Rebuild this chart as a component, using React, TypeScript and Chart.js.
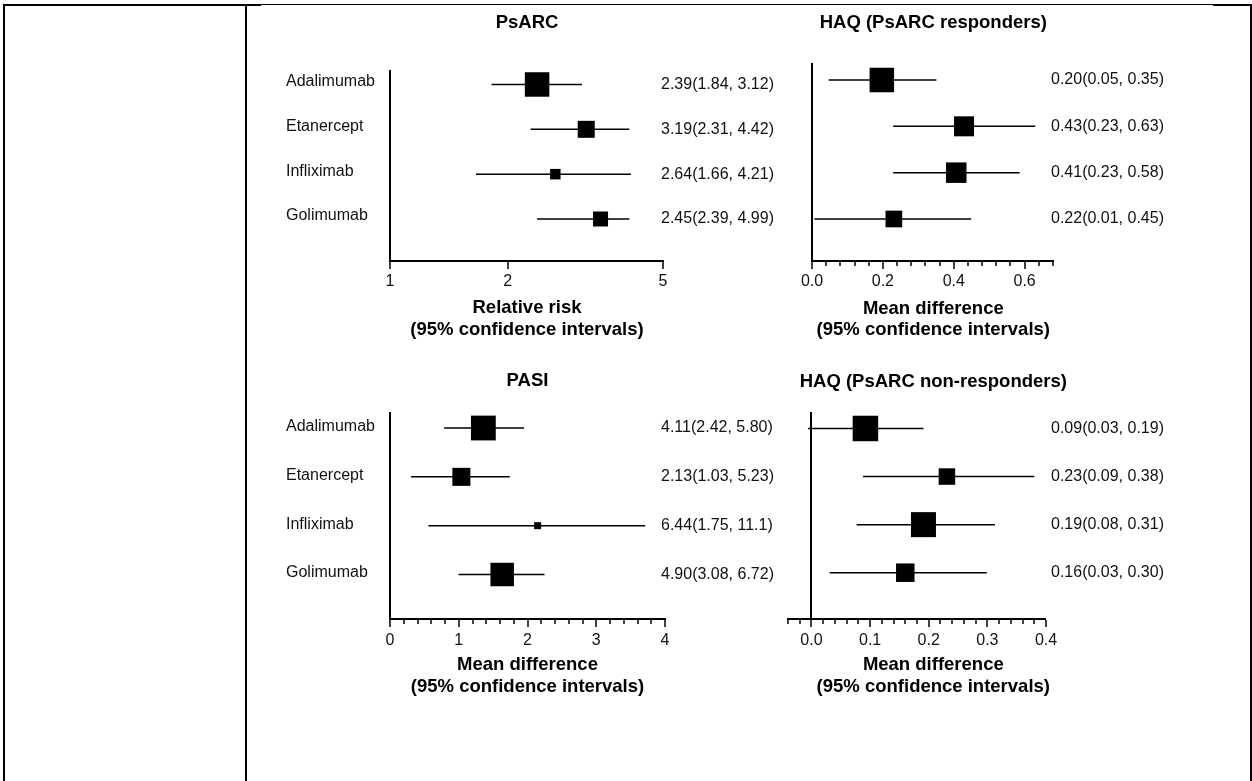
import React, { useEffect, useRef } from 'react';
import { Chart, registerables } from 'chart.js';

Chart.register(...registerables);

const FONT = "'Liberation Sans', Arial, Helvetica, sans-serif";
Chart.defaults.font.family = FONT;
Chart.defaults.color = '#111';

// ---------- data ----------
const drugs = ['Adalimumab', 'Etanercept', 'Infliximab', 'Golimumab'];
const rows = [1, 2, 3, 4];

// PsARC (relative risk, log axis)
const psarcPoint = [2.38, 3.18, 2.65, 3.46];
const psarcLow = [1.82, 2.29, 1.66, 2.38];
const psarcHigh = [3.1, 4.1, 4.14, 4.1];
const psarcBox = [24.5, 17, 10.5, 15];
const psarcText = ['2.39(1.84, 3.12)', '3.19(2.31, 4.42)', '2.64(1.66, 4.21)', '2.45(2.39, 4.99)'];
const psarcTicks = [1, 2, 5];
const psarcTickLabels = ['1', '2', '5'];

// HAQ (PsARC responders)
const haqRPoint = [0.197, 0.429, 0.407, 0.231];
const haqRLow = [0.047, 0.229, 0.229, 0.007];
const haqRHigh = [0.351, 0.63, 0.586, 0.449];
const haqRBox = [24.5, 20, 20.5, 16.7];
const haqRText = ['0.20(0.05, 0.35)', '0.43(0.23, 0.63)', '0.41(0.23, 0.58)', '0.22(0.01, 0.45)'];
const haqRTicks = [0, 0.2, 0.4, 0.6];
const haqRTickLabels = ['0.0', '0.2', '0.4', '0.6'];

// PASI
const pasiPoint = [1.358, 1.038, 2.147, 1.632];
const pasiLow = [0.788, 0.307, 0.559, 0.997];
const pasiHigh = [1.95, 1.742, 3.712, 2.248];
const pasiBox = [24.8, 18, 7, 23.5];
const pasiText = ['4.11(2.42, 5.80)', '2.13(1.03, 5.23)', '6.44(1.75, 11.1)', '4.90(3.08, 6.72)'];
const pasiTicks = [0, 1, 2, 3, 4];
const pasiTickLabels = ['0', '1', '2', '3', '4'];

// HAQ (PsARC non-responders)
const haqNPoint = [0.092, 0.231, 0.191, 0.16];
const haqNLow = [-0.006, 0.088, 0.077, 0.031];
const haqNHigh = [0.191, 0.38, 0.313, 0.299];
const haqNBox = [25.5, 16.5, 25, 18.5];
const haqNText = ['0.09(0.03, 0.19)', '0.23(0.09, 0.38)', '0.19(0.08, 0.31)', '0.16(0.03, 0.30)'];
const haqNTicks = [0, 0.1, 0.2, 0.3, 0.4];
const haqNTickLabels = ['0.0', '0.1', '0.2', '0.3', '0.4'];

// ---------- layout ----------
const TITLE_SIZE = 18.5;
const TITLE_LH = 1.17;
const TICK_SIZE = 16;
const TICK_LEN = 8;
const X_AXIS_H = 30;

type Geo = {
  left: number; top: number; width: number; height: number; padL: number;
  plotL: number; plotR: number; plotT: number; plotB: number;
  titleY: number; centerX: number; axisTitleY: number; tickLabelY: number;
  labelX: number; annX: number; yMin: number; yMax: number; rowLabelOffset: number;
};

type PanelSpec = {
  id: string; title: string; axisTitle: string[];
  scaleType: 'linear' | 'logarithmic';
  xMin: number; xMax: number; refValue: number;
  majorTicks: number[]; majorLabels: string[]; minorStep: number;
  point: number[]; low: number[]; high: number[]; box: number[]; text: string[];
  rowLabels: string[] | null;
  geo: Geo;
};

const panels: PanelSpec[] = [
  {
    id: 'psarc', title: 'PsARC', axisTitle: ['Relative risk', '(95% confidence intervals)'],
    scaleType: 'logarithmic', xMin: 1, xMax: 5, refValue: 1,
    majorTicks: psarcTicks, majorLabels: psarcTickLabels, minorStep: 0,
    point: psarcPoint, low: psarcLow, high: psarcHigh, box: psarcBox, text: psarcText, rowLabels: drugs,
    geo: { left: 270, top: 8, width: 520, height: 340, padL: 16, plotL: 390, plotR: 663, plotT: 70, plotB: 261,
      titleY: 23, centerX: 527, axisTitleY: 308.3, tickLabelY: 281.7, labelX: 286, annX: 661, yMin: 0.677, yMax: 4.937, rowLabelOffset: -3 },
  },
  {
    id: 'haqr', title: 'HAQ (PsARC responders)', axisTitle: ['Mean difference', '(95% confidence intervals)'],
    scaleType: 'linear', xMin: 0, xMax: 0.68, refValue: 0,
    majorTicks: haqRTicks, majorLabels: haqRTickLabels, minorStep: 0.04,
    point: haqRPoint, low: haqRLow, high: haqRHigh, box: haqRBox, text: haqRText, rowLabels: null,
    geo: { left: 790, top: 8, width: 400, height: 340, padL: 10, plotL: 812, plotR: 1053, plotT: 63, plotB: 261,
      titleY: 23, centerX: 933.3, axisTitleY: 308.5, tickLabelY: 282, labelX: 800, annX: 1051, yMin: 0.633, yMax: 4.907, rowLabelOffset: 0 },
  },
  {
    id: 'pasi', title: 'PASI', axisTitle: ['Mean difference', '(95% confidence intervals)'],
    scaleType: 'linear', xMin: 0, xMax: 4, refValue: 0,
    majorTicks: pasiTicks, majorLabels: pasiTickLabels, minorStep: 0.2,
    point: pasiPoint, low: pasiLow, high: pasiHigh, box: pasiBox, text: pasiText, rowLabels: drugs,
    geo: { left: 270, top: 355, width: 520, height: 345, padL: 16, plotL: 390, plotR: 665, plotT: 412, plotB: 619,
      titleY: 381, centerX: 527.5, axisTitleY: 665, tickLabelY: 641, labelX: 286, annX: 661, yMin: 0.672, yMax: 4.911, rowLabelOffset: -1.5 },
  },
  {
    id: 'haqn', title: 'HAQ (PsARC non-responders)', axisTitle: ['Mean difference', '(95% confidence intervals)'],
    scaleType: 'linear', xMin: -0.04, xMax: 0.4, refValue: 0,
    majorTicks: haqNTicks, majorLabels: haqNTickLabels, minorStep: 0.02,
    point: haqNPoint, low: haqNLow, high: haqNHigh, box: haqNBox, text: haqNText, rowLabels: null,
    geo: { left: 770, top: 355, width: 420, height: 345, padL: 5, plotL: 788, plotR: 1046, plotT: 412, plotB: 619,
      titleY: 381.5, centerX: 933.3, axisTitleY: 665, tickLabelY: 641, labelX: 775, annX: 1051, yMin: 0.657, yMax: 4.963, rowLabelOffset: 0 },
  },
];

function buildTickValues(major: number[], min: number, max: number, step: number) {
  const vals = [...major];
  if (step > 0) {
    const k0 = Math.ceil(min / step - 1e-9);
    const k1 = Math.floor(max / step + 1e-9);
    for (let k = k0; k <= k1; k++) {
      const v = Math.round(k * step * 1e6) / 1e6;
      if (!major.some((m) => Math.abs(m - v) < 1e-6)) vals.push(v);
    }
  }
  return vals.sort((a, b) => a - b);
}

function widestText(texts: string[], size: number) {
  const c = document.createElement('canvas');
  const ctx = c.getContext('2d');
  if (!ctx) return 113;
  ctx.font = `normal ${size}px ${FONT}`;
  return Math.max(...texts.map((t) => ctx.measureText(t).width));
}

function buildConfig(p: PanelSpec): any {
  const g = p.geo;
  const LH = TITLE_SIZE * TITLE_LH;
  const half = LH / 2;
  const wL = g.plotL - (g.left + g.padL);
  const padR = g.width - 2 * (g.centerX - g.left) + g.padL;
  const wR = g.left + g.width - padR - g.plotR;
  const annW = widestText(p.text, TICK_SIZE);
  // right axis, mirrored, crossAlign 'far': text starts at left + padding - widest
  const annPad = g.annX + annW - g.plotR;
  // left axis, mirrored, crossAlign 'near': x = right + padding
  const rowPad = g.labelX - g.plotL;
  const titlePadTop = g.titleY - g.top - half;
  const titlePadBottom = g.plotT - g.titleY - half;
  const tickPad = g.tickLabelY - g.plotB - TICK_LEN - (TICK_SIZE * 1.2) / 2;
  const subPadTop = g.axisTitleY - g.plotB - X_AXIS_H - half;
  const subPadBottom = g.top + g.height - g.plotB - X_AXIS_H - subPadTop - 2 * LH;

  const tickValues = buildTickValues(p.majorTicks, p.xMin, p.xMax, p.minorStep);
  const majorIndex = (v: number) => p.majorTicks.findIndex((m) => Math.abs(m - v) < 1e-6);
  const isRef = (v: any) => typeof v === 'number' && Math.abs(v - p.refValue) < 1e-9;

  const rowTicks = (s: any) => {
    s.ticks = rows.map((v) => ({ value: v }));
  };
  const fixVertical = (w: number) => (s: any) => {
    s.width = w;
    s.paddingTop = 0;
    s.paddingBottom = 0;
    s.paddingLeft = 0;
    s.paddingRight = 0;
  };

  return {
    type: 'scatter',
    data: {
      datasets: [
        {
          type: 'scatter',
          label: 'estimate',
          data: p.point.map((v, i) => ({ x: v, y: rows[i] })),
          pointStyle: 'rect',
          pointRadius: p.box.map((s) => s / Math.SQRT2),
          pointHoverRadius: p.box.map((s) => s / Math.SQRT2),
          backgroundColor: '#000',
          borderColor: '#000',
          borderWidth: 0,
          order: 0,
          clip: false,
          xAxisID: 'x',
          yAxisID: 'y',
        },
        {
          type: 'bar',
          label: 'ci',
          indexAxis: 'y',
          data: p.low.map((l, i) => ({ x: [l, p.high[i]], y: rows[i] })),
          backgroundColor: '#000',
          borderWidth: 0,
          barThickness: 1.5,
          inflateAmount: 0,
          order: 1,
          clip: false,
          xAxisID: 'x',
          yAxisID: 'y',
        },
      ],
    },
    options: {
      responsive: false,
      maintainAspectRatio: false,
      animation: false,
      events: [],
      layout: { padding: { left: g.padL, right: padR, top: 0, bottom: 0 } },
      plugins: {
        legend: { display: false },
        tooltip: { enabled: false },
        title: {
          display: true,
          text: p.title,
          color: '#000',
          align: 'center',
          font: { size: TITLE_SIZE, weight: 'bold', lineHeight: TITLE_LH, family: FONT },
          padding: { top: titlePadTop, bottom: titlePadBottom },
        },
        subtitle: {
          display: true,
          position: 'bottom',
          text: p.axisTitle,
          color: '#000',
          align: 'center',
          font: { size: TITLE_SIZE, weight: 'bold', lineHeight: TITLE_LH, family: FONT },
          padding: { top: subPadTop, bottom: subPadBottom },
        },
      },
      scales: {
        x: {
          type: p.scaleType,
          position: 'bottom',
          min: p.xMin,
          max: p.xMax,
          offset: false,
          afterBuildTicks: (s: any) => {
            s.ticks = tickValues.map((v) => ({ value: v }));
          },
          afterFit: (s: any) => {
            s.height = X_AXIS_H;
          },
          ticks: {
            autoSkip: false,
            maxRotation: 0,
            minRotation: 0,
            padding: tickPad,
            color: '#111',
            font: { size: TICK_SIZE, family: FONT },
            callback: (v: any) => {
              const i = majorIndex(Number(v));
              return i >= 0 ? p.majorLabels[i] : '';
            },
          },
          grid: {
            display: true,
            drawOnChartArea: true,
            drawTicks: true,
            offset: false,
            tickLength: TICK_LEN,
            color: (c: any) => (c.tick && isRef(c.tick.value) ? '#000' : 'rgba(0,0,0,0)'),
            lineWidth: (c: any) => (c.tick && isRef(c.tick.value) ? 2 : 0),
            tickColor: '#000',
            tickWidth: 1.5,
            tickBorderDash: (c: any) => (c.tick && majorIndex(c.tick.value) < 0 ? [4, 100] : []),
          },
          border: { display: true, color: '#000', width: 2 },
        },
        y: {
          type: 'linear',
          position: 'left',
          reverse: true,
          min: g.yMin,
          max: g.yMax,
          offset: false,
          afterBuildTicks: rowTicks,
          afterFit: fixVertical(wL),
          ticks: {
            autoSkip: false,
            mirror: true,
            crossAlign: 'near',
            padding: rowPad,
            labelOffset: g.rowLabelOffset,
            color: '#111',
            font: { size: TICK_SIZE, family: FONT },
            callback: (v: any) => (p.rowLabels ? p.rowLabels[rows.indexOf(Number(v))] ?? '' : ''),
          },
          grid: { display: false, drawTicks: false, offset: false },
          border: { display: false },
        },
        yR: {
          type: 'linear',
          position: 'right',
          reverse: true,
          min: g.yMin,
          max: g.yMax,
          offset: false,
          afterBuildTicks: rowTicks,
          afterFit: fixVertical(wR),
          ticks: {
            autoSkip: false,
            mirror: true,
            crossAlign: 'far',
            padding: annPad,
            color: '#111',
            font: { size: TICK_SIZE, family: FONT },
            callback: (v: any) => p.text[rows.indexOf(Number(v))] ?? '',
          },
          grid: { display: false, drawTicks: false, offset: false },
          border: { display: false },
        },
      },
    },
  };
}

function Panel({ spec }: { spec: PanelSpec }) {
  const ref = useRef<HTMLCanvasElement | null>(null);
  useEffect(() => {
    if (!ref.current) return;
    const chart = new Chart(ref.current, buildConfig(spec));
    return () => chart.destroy();
  }, [spec]);
  const g = spec.geo;
  return (
    <canvas
      ref={ref}
      width={g.width}
      height={g.height}
      style={{ position: 'absolute', left: g.left, top: g.top, width: g.width, height: g.height }}
    />
  );
}

const line = (left: number, top: number, width: number, height: number) => (
  <div style={{ position: 'absolute', left, top, width, height, background: '#000' }} />
);

export default function App() {
  return (
    <div
      style={{
        position: 'absolute',
        left: 0,
        top: 0,
        width: 1252,
        height: 781,
        background: '#fff',
        overflow: 'hidden',
      }}
    >
      {line(3, 4, 2, 777)}
      {line(3, 4, 258, 2)}
      {line(261, 4, 952, 1)}
      {line(1213, 4, 39, 2)}
      {line(245, 4, 2, 777)}
      {line(1250, 4, 2, 777)}
      {panels.map((p) => (
        <Panel key={p.id} spec={p} />
      ))}
    </div>
  );
}
